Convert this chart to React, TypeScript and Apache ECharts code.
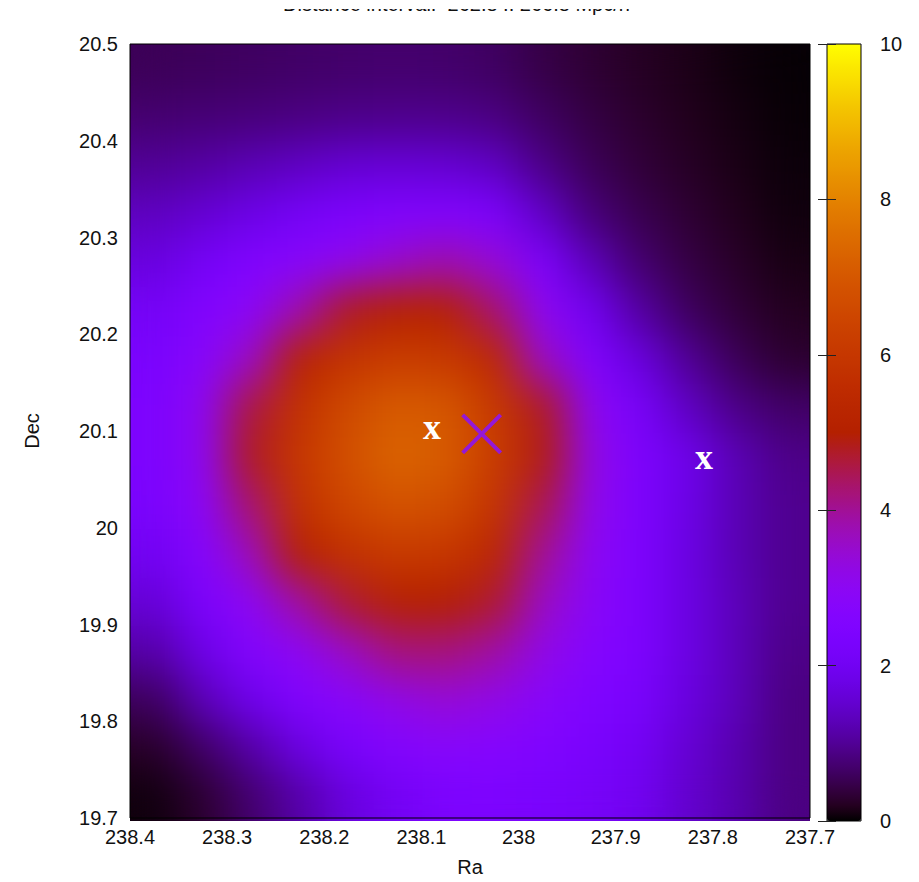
import React, { useEffect, useRef } from "react";
import * as echarts from "echarts";

// Cell centres (Ra runs right-to-left, Dec rows listed top to bottom)
const raCenters = [238.375, 238.325, 238.275, 238.225, 238.175, 238.125, 238.075, 238.025, 237.975, 237.925, 237.875, 237.825, 237.775, 237.725];
const decCentersTopDown = [20.475, 20.425, 20.375, 20.325, 20.275, 20.225, 20.175, 20.125, 20.075, 20.025, 19.975, 19.925, 19.875, 19.825, 19.775, 19.725];

// Density values, one row per Dec centre (top to bottom)
const densityRows = [
  [0.55, 0.58, 0.62, 0.65, 0.68, 0.7, 0.68, 0.62, 0.45, 0.32, 0.22, 0.14, 0.07, 0.03],
  [0.72, 0.76, 0.8, 0.85, 0.9, 0.92, 0.92, 0.85, 0.62, 0.42, 0.28, 0.17, 0.1, 0.04],
  [1.0, 1.1, 1.25, 1.4, 1.55, 1.6, 1.55, 1.4, 0.9, 0.55, 0.36, 0.23, 0.13, 0.06],
  [1.35, 1.55, 1.8, 2.1, 2.35, 2.5, 2.55, 2.35, 1.45, 0.8, 0.5, 0.32, 0.17, 0.08],
  [1.7, 2.1, 2.5, 2.75, 3.1, 3.5, 3.8, 3.4, 2.4, 1.3, 0.72, 0.43, 0.25, 0.12],
  [2.1, 2.55, 2.9, 3.8, 4.8, 5.1, 5.1, 4.3, 3.0, 2.0, 1.1, 0.6, 0.35, 0.19],
  [2.3, 2.75, 3.6, 5.2, 5.9, 6.2, 6.1, 5.5, 3.6, 2.5, 1.7, 1.0, 0.55, 0.3],
  [2.4, 3.0, 4.6, 5.8, 6.6, 7.1, 7.0, 6.1, 4.8, 3.0, 2.2, 1.4, 0.9, 0.65],
  [2.4, 3.0, 4.8, 6.0, 6.8, 7.3, 7.1, 6.2, 4.9, 3.2, 2.4, 1.85, 1.25, 0.9],
  [2.3, 2.9, 4.3, 5.8, 6.5, 6.9, 6.7, 5.9, 4.5, 3.1, 2.4, 1.8, 1.25, 0.95],
  [2.0, 2.65, 3.7, 5.1, 5.8, 6.1, 6.0, 5.4, 4.0, 2.95, 2.4, 1.75, 1.25, 0.95],
  [1.6, 2.35, 3.0, 3.9, 4.7, 5.1, 5.0, 4.7, 3.6, 2.85, 2.4, 1.75, 1.3, 0.95],
  [1.15, 1.85, 2.6, 3.0, 3.6, 4.2, 4.2, 3.9, 3.2, 2.65, 2.4, 1.75, 1.3, 0.9],
  [0.6, 1.3, 1.9, 2.5, 2.8, 3.2, 3.4, 3.2, 2.8, 2.45, 2.25, 1.7, 1.3, 0.85],
  [0.25, 0.65, 1.15, 1.75, 2.25, 2.6, 2.75, 2.65, 2.5, 2.3, 2.05, 1.55, 1.2, 0.85],
  [0.08, 0.3, 0.7, 1.15, 1.7, 2.05, 2.35, 2.4, 2.3, 2.15, 1.95, 1.5, 1.2, 0.85],
];

// Marked objects
const galaxyRa = [238.089, 237.809];
const galaxyDec = [20.102, 20.071];
const centreRa = [238.038];
const centreDec = [20.097];

// Axis ranges
const raRange = [237.7, 238.4];
const decRange = [19.7, 20.5];
const zRange = [0, 10];

const TITLE = "Distance interval:  262.8 .. 266.8 Mpc/h";
const FONT = "'Liberation Sans', Arial, Helvetica, sans-serif";

// gnuplot default pm3d palette (rgbformulae 7,5,15)
function gnuplotPalette(n: number): string[] {
  const out: string[] = [];
  for (let i = 0; i <= n; i++) {
    const x = i / n;
    const r = Math.sqrt(x);
    const g = x * x * x;
    const b = Math.max(0, Math.sin(2 * Math.PI * x));
    out.push(`rgb(${Math.round(r * 255)},${Math.round(g * 255)},${Math.round(b * 255)})`);
  }
  return out;
}
const palette = gnuplotPalette(60);

const decAsc = [...decCentersTopDown].reverse();
const heatData: number[][] = [];
densityRows.forEach((row, ri) => {
  const yi = decCentersTopDown.length - 1 - ri;
  row.forEach((v, xi) => heatData.push([xi, yi, v]));
});

const PAD = 6;

function heatOption(grid: any, showBar: boolean, data: number[][]) {
  return {
    animation: false,
    grid,
    xAxis: { type: "category", data: raCenters.map(String), show: false },
    yAxis: { type: "category", data: decAsc.map(String), show: false },
    visualMap: {
      type: "continuous",
      show: showBar,
      min: zRange[0],
      max: zRange[1],
      calculable: false,
      orient: "vertical",
      left: 827,
      top: 44,
      itemWidth: 34,
      itemHeight: 777,
      padding: 0,
      seriesIndex: 0,
      inRange: { color: palette },
    },
    series: [
      {
        type: "heatmap",
        data,
        itemStyle: { borderWidth: 0 },
        emphasis: { disabled: true },
        silent: true,
      },
    ],
  };
}

function frameOption() {
  const labelStyle = { color: "#111", fontSize: 20, fontFamily: FONT };
  return {
    animation: false,
    backgroundColor: "transparent",
    title: {
      text: TITLE,
      left: 283,
      top: -6,
      padding: 0,
      textStyle: { color: "#111", fontSize: 20, fontWeight: "normal", fontFamily: FONT },
    },
    graphic: [
      {
        type: "rect",
        left: 250,
        top: 0,
        shape: { width: 440, height: 9 },
        style: { fill: "#ffffff" },
        z: 100,
        silent: true,
      },
    ],
    grid: [
      { left: 130, top: 44, width: 680, height: 777, show: true, borderColor: "#000", borderWidth: 1, backgroundColor: "transparent" },
      { left: 827, top: 44, width: 34, height: 777, show: true, borderColor: "#000", borderWidth: 1, backgroundColor: "transparent" },
    ],
    xAxis: [
      {
        type: "value",
        gridIndex: 0,
        min: raRange[0],
        max: raRange[1],
        interval: 0.1,
        inverse: true,
        axisLine: { show: false },
        axisTick: { show: false },
        splitLine: { show: false },
        axisLabel: { ...labelStyle, margin: 9 },
        name: "Ra",
        nameLocation: "middle",
        nameGap: 39,
        nameTextStyle: labelStyle,
      },
      { type: "value", gridIndex: 1, show: false, min: 0, max: 1 },
    ],
    yAxis: [
      {
        type: "value",
        gridIndex: 0,
        min: decRange[0],
        max: decRange[1],
        interval: 0.1,
        axisLine: { show: false },
        axisTick: { show: false },
        splitLine: { show: false },
        axisLabel: { ...labelStyle, margin: 12 },
        name: "Dec",
        nameLocation: "middle",
        nameGap: 88,
        nameRotate: 90,
        nameTextStyle: labelStyle,
      },
      {
        type: "value",
        gridIndex: 1,
        position: "right",
        min: zRange[0],
        max: zRange[1],
        interval: 2,
        axisLine: { show: false },
        axisTick: { show: true, inside: true, length: 9, lineStyle: { color: "#222", width: 1 } },
        splitLine: { show: false },
        axisLabel: { ...labelStyle, margin: 19 },
      },
      {
        type: "value",
        gridIndex: 1,
        position: "left",
        min: zRange[0],
        max: zRange[1],
        interval: 2,
        axisLine: { show: false },
        axisTick: { show: true, inside: true, length: 9, lineStyle: { color: "#222", width: 1 } },
        splitLine: { show: false },
        axisLabel: { show: false },
      },
    ],
    series: [
      {
        type: "scatter",
        xAxisIndex: 0,
        yAxisIndex: 0,
        data: galaxyRa.map((r, i) => [r, galaxyDec[i]]),
        symbolSize: 2,
        itemStyle: { color: "rgba(0,0,0,0)", opacity: 1 },
        label: {
          show: true,
          position: "inside",
          formatter: "x",
          color: "#ffffff",
          opacity: 1,
          fontFamily: "'Liberation Serif', 'DejaVu Serif', serif",
          fontWeight: "bold",
          fontSize: 36,
          offset: [0, -2],
        },
        emphasis: { disabled: true },
        silent: true,
        z: 5,
      },
      {
        type: "scatter",
        xAxisIndex: 0,
        yAxisIndex: 0,
        data: centreRa.map((r, i) => [r, centreDec[i]]),
        symbol: "path://M0 0L10 10M10 0L0 10",
        symbolSize: [38, 38],
        itemStyle: { color: "rgba(0,0,0,0)", borderColor: "#9418d8", borderWidth: 4, opacity: 1 },
        emphasis: { disabled: true },
        silent: true,
        z: 6,
      },
    ],
  };
}

export default function App() {
  const baseRef = useRef<HTMLDivElement>(null);
  const blurRef = useRef<HTMLDivElement>(null);
  const topRef = useRef<HTMLDivElement>(null);

  useEffect(() => {
    // Base layer: colour bar only
    const base = echarts.init(baseRef.current!, undefined, { renderer: "svg" });
    base.setOption(heatOption({ left: 130, top: 44, width: 680, height: 777 }, true, []));
    // Density field, smoothed for display
    const blur = echarts.init(blurRef.current!, undefined, { renderer: "svg" });
    blur.setOption(heatOption({ left: PAD, top: PAD, right: PAD, bottom: PAD }, false, heatData));
    // Frame, axes, texts and markers
    const top = echarts.init(topRef.current!, undefined, { renderer: "svg" });
    top.setOption(frameOption());
    return () => {
      base.dispose();
      blur.dispose();
      top.dispose();
    };
  }, []);

  return (
    <div style={{ position: "absolute", left: 0, top: 0, width: 919, height: 882, background: "#fff", overflow: "hidden" }}>
      <svg width={0} height={0} style={{ position: "absolute" }}>
        <defs>
          <filter id="nblur" x="0" y="0" width="1" height="1" colorInterpolationFilters="sRGB">
            <feGaussianBlur stdDeviation="20" />
            <feComponentTransfer>
              <feFuncA type="table" tableValues="1 1" />
            </feComponentTransfer>
          </filter>
        </defs>
      </svg>
      <div ref={baseRef} style={{ position: "absolute", left: 0, top: 0, width: 919, height: 882 }} />
      <div style={{ position: "absolute", left: 130, top: 44, width: 680, height: 777, overflow: "hidden" }}>
        <div
          ref={blurRef}
          style={{ position: "absolute", left: -PAD, top: -PAD, width: 680 + 2 * PAD, height: 777 + 2 * PAD, filter: "url(#nblur)" }}
        />
      </div>
      <div ref={topRef} style={{ position: "absolute", left: 0, top: 0, width: 919, height: 882 }} />
    </div>
  );
}
